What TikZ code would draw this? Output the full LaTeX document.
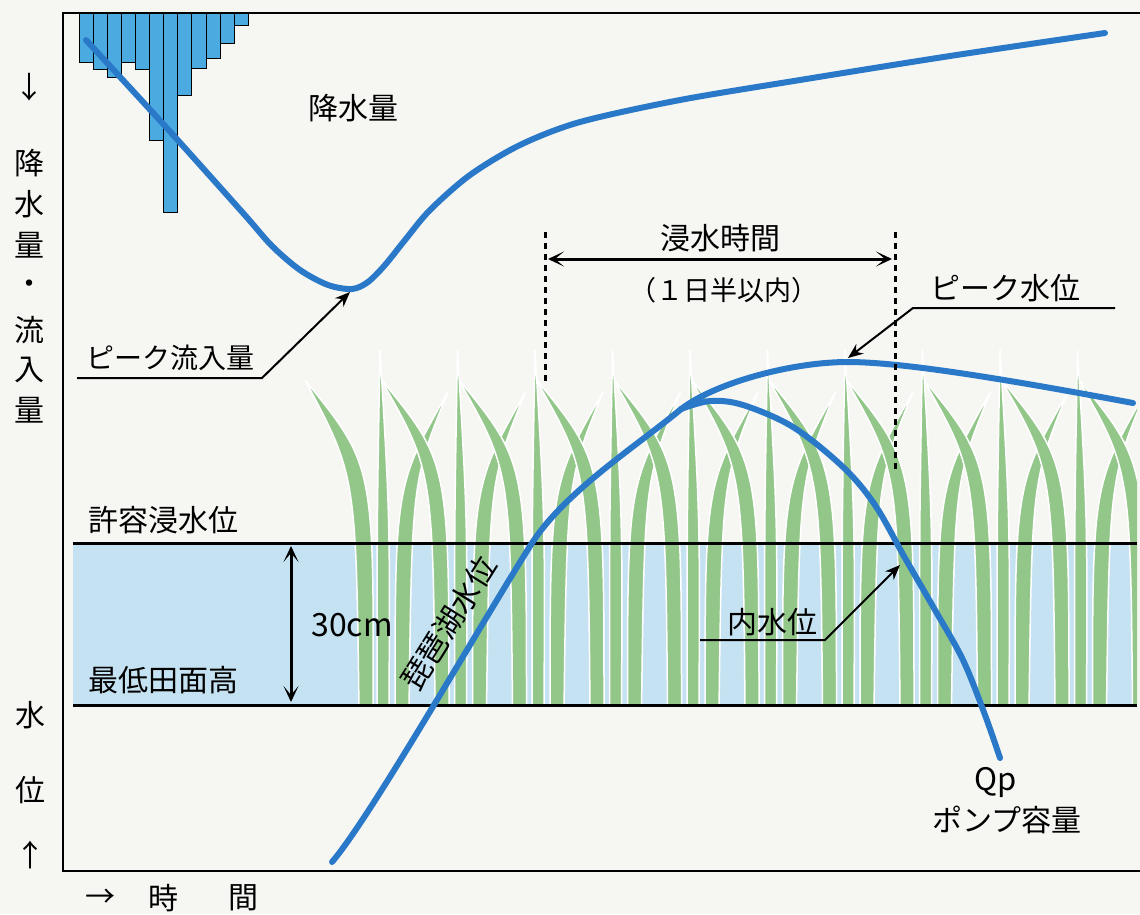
\documentclass[tikz,border=0pt]{standalone}
\usepackage{fontspec}
\setmainfont{Noto Sans CJK JP}
\usetikzlibrary{arrows.meta}
\definecolor{paper}{HTML}{F6F6F3}
\definecolor{curve}{HTML}{2A79C9}
\definecolor{rainbar}{HTML}{4BAAE0}
\definecolor{pond}{HTML}{C4E2F1}
\definecolor{leaf}{HTML}{93C78A}
\tikzset{
  lbl/.style={inner sep=0pt, font=\fontsize{30}{30}\selectfont},
  smalllbl/.style={inner sep=0pt, font=\fontsize{28}{28}\selectfont},
  hyd/.style={draw=curve, line width=6pt, line cap=round},
  frameline/.style={draw=black, line width=2.5pt},
  levelline/.style={draw=black, line width=3pt},
  leader/.style={draw=black, line width=2pt, -{Stealth[length=15pt,width=12pt]}},
  spanarrow/.style={draw=black, line width=3pt,
    {Stealth[length=16pt,width=15pt,inset=9pt]}-{Stealth[length=16pt,width=15pt,inset=9pt]}},
  cutline/.style={draw=black, line width=3pt, dash pattern=on 6pt off 5pt},
  rainbox/.style={fill=rainbar, draw=black, line width=1pt},
  bladestyle/.style={fill=leaf, draw=white, line width=1.5pt},
}
\begin{document}
\begin{tikzpicture}[x=1pt,y=-1pt]
\useasboundingbox (0,0) rectangle (1140,914);
\fill[paper] (0,0) rectangle (1140,914);

% flooding band between the two reference levels
\fill[pond] (73,543) rectangle (1137,705);

% rice plants
\begin{scope}
  \clip (298,330) rectangle (1137,705);
  % leftmost partial plant
  \path[bladestyle] (359,710) .. controls (356,475) .. (305,380) .. controls (374,465) .. (373,710) -- cycle;
  \foreach \x in {383,460.5,538,615.5,693,770.5,848,925.5,1003,1080.5}{
    % blade leaning to the left
    \path[bladestyle] ({\x+12},710) .. controls ({\x+12},485) .. ({\x+65},392)
          .. controls ({\x+29},480) .. ({\x+26},710) -- cycle;
    % blade bending down to the right
    \path[bladestyle] ({\x+52},710) .. controls ({\x+50},470) .. ({\x-3},378)
          .. controls ({\x+66},462) .. ({\x+66},710) -- cycle;
    % upright blade
    \path[bladestyle] ({\x-6},710) .. controls ({\x-6},520) .. ({\x-3},350)
          .. controls ({\x+7},520) .. ({\x+6},710) -- cycle;
  }
\end{scope}

% rainfall hyetograph
\foreach \b [count=\i from 0] in {62,69,77,62,69,140,212,95,68,58,43,25}{
  \path[rainbox] ({79.3+14.08*\i},13) rectangle ({79.3+14.08*(\i+1)},\b);
}

% frame
\draw[frameline] (1140,13) -- (63,13) -- (63,871) -- (1140,871);

% reference levels
\draw[levelline] (73,543) -- (1137,543);
\draw[levelline] (73,705) -- (1137,705);

% inflow hydrograph
\draw[hyd] plot[smooth, tension=0.5] coordinates {
  (86,40) (165,126) (243,213) (272,246) (300,270) (328,285) (352,289)
  (368,282) (385,265) (405,240) (430,210) (470,175) (520,145) (580,122)
  (680,100) (800,80) (950,56) (1105,33)};

% lake water level
\coordinate (lakeA) at (332,862);
\coordinate (lakeB) at (532,543);
\coordinate (lakeC) at (680,410);
\coordinate (lakeD) at (848,362);
\coordinate (lakeE) at (1133,403);
\draw[hyd] (lakeA) .. controls (372,815) and (480,625) .. (lakeB)
  .. controls (565,492) and (635,447) .. (lakeC)
  .. controls (712,384) and (790,362) .. (lakeD)
  .. controls (900,362) and (1000,378) .. (lakeE);

% inner water level
\draw[hyd] plot[smooth, tension=0.55] coordinates {
  (681,409) (710,401) (743,405) (793,427) (843,467) (875,505) (905,558)
  (935,610) (963,660) (985,715) (1000,758)};

% flooding duration
\coordinate (durL0) at (545,232);
\coordinate (durL1) at (545,385);
\coordinate (durR0) at (895,232);
\coordinate (durR1) at (895,472);
\draw[cutline] (durL0) -- (durL1);
\draw[cutline] (durR0) -- (durR1);
\coordinate (durA) at (548,259);
\coordinate (durB) at (892,259);
\draw[spanarrow] (durA) -- (durB);
\node[lbl] (durtxt) at (720,238) {浸水時間};
\node[inner sep=0pt, font=\fontsize{27}{27}\selectfont] (durlim) at (724,290) {（１日半以内）};

% 30 cm depth
\coordinate (depA) at (291,546);
\coordinate (depB) at (291,702);
\draw[spanarrow] (depA) -- (depB);
\node[inner sep=0pt, font=\fontsize{32}{32}\selectfont] (deptxt) at (352,625) {30cm};

% level labels
\node[lbl] (allow) at (163,520) {許容浸水位};
\node[lbl] (lowest) at (163,680) {最低田面高};
\node[lbl] (rain) at (353,108) {降水量};
\node[lbl, rotate=58] (lake) at (449,623) {琵琶湖水位};

% peak inflow leader
\node[smalllbl] (pinlbl) at (170,358) {ピーク流入量};
\coordinate (pin0) at (77,378);
\coordinate (pin1) at (262,378);
\coordinate (pintip) at (350,292);
\draw[leader] (pin0) -- (pin1) -- (pintip);

% peak water level leader
\node[lbl] (pwllbl) at (1005,288) {ピーク水位};
\coordinate (pwl0) at (1115,308);
\coordinate (pwl1) at (913,308);
\coordinate (pwltip) at (848,358);
\draw[leader] (pwl0) -- (pwl1) -- (pwltip);

% inner water level leader
\node[lbl] (iwlbl) at (772,622) {内水位};
\coordinate (iw0) at (700,640);
\coordinate (iw1) at (825,640);
\coordinate (iwtip) at (900,565);
\draw[leader] (iw0) -- (iw1) -- (iwtip);

% pump capacity
\node[inner sep=0pt, font=\fontsize{31}{31}\selectfont] (qp) at (996,782) {Qp};
\node[lbl] (pump) at (1007,820) {ポンプ容量};

% vertical axis caption
\node[lbl] (ax0) at (29,87) {↓};
\node[lbl] (ax1) at (29,163) {降};
\node[lbl] (ax2) at (29,204) {水};
\node[lbl] (ax3) at (29,245) {量};
\node[lbl] (ax4) at (29,287) {・};
\node[lbl] (ax5) at (29,330) {流};
\node[lbl] (ax6) at (29,370) {入};
\node[lbl] (ax7) at (29,410) {量};
\node[lbl] (ax8) at (30,715) {水};
\node[lbl] (ax9) at (30,790) {位};
\node[lbl] (ax10) at (30,855) {↑};

% horizontal axis caption
\node[lbl] (tx0) at (100,898) {→};
\node[lbl] (tx1) at (163,898) {時};
\node[lbl] (tx2) at (243,898) {間};
\end{tikzpicture}
\end{document}
